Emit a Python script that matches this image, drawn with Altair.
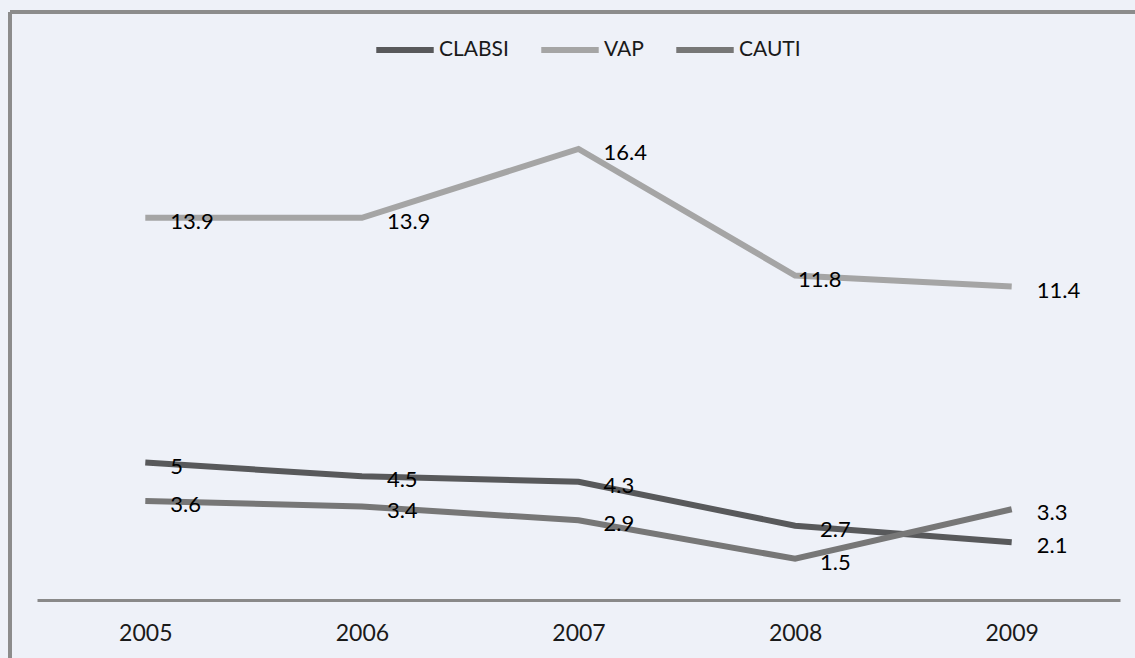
import altair as alt
import pandas as pd

years = ["2005", "2006", "2007", "2008", "2009"]
series_names = ["CLABSI", "VAP", "CAUTI"]
clabsi = [5, 4.5, 4.3, 2.7, 2.1]
vap = [13.9, 13.9, 16.4, 11.8, 11.4]
cauti = [3.6, 3.4, 2.9, 1.5, 3.3]
colors = ["#58595b", "#a5a5a5", "#777777"]

rows = []
for name, vals in zip(series_names, [clabsi, vap, cauti]):
    for y, v in zip(years, vals):
        rows.append({"year": y, "series": name, "value": v})
df = pd.DataFrame(rows)

FONT = "Lato"
W, H = 1083, 550

base = alt.Chart(df)

x = alt.X("year:N", sort=years, title=None,
          scale=alt.Scale(paddingInner=0, paddingOuter=0),
          axis=alt.Axis(labelAngle=0, ticks=False, domainColor="#898989", domainWidth=3,
                        labelFont=FONT, labelFontSize=23, labelColor="#1a1a1a",
                        labelPadding=22, grid=False))
y = alt.Y("value:Q", scale=alt.Scale(domain=[0, 20], nice=False), axis=None)
color = alt.Color("series:N", sort=series_names,
                  scale=alt.Scale(domain=series_names, range=colors),
                  legend=alt.Legend(title=None, orient="none", direction="horizontal",
                                    legendX=336, legendY=-32,
                                    symbolType="stroke", symbolSize=3300, symbolStrokeWidth=6,
                                    labelFont=FONT, labelFontSize=21, labelColor="#1a1a1a",
                                    columnPadding=20, labelOffset=2))

lines = base.mark_line(strokeWidth=6, strokeCap="butt").encode(
    x=x, y=y, color=color, order=alt.Order("year:N"))

labels_main = base.transform_filter(
    "!(datum.series == 'VAP' && datum.year == '2008')"
).mark_text(align="left", baseline="middle", dx=25, dy=4, font=FONT, fontSize=22,
            color="#000000").encode(x=alt.X("year:N", sort=years), y="value:Q",
                                    text=alt.Text("value:Q"))
labels_exc = base.transform_filter(
    "datum.series == 'VAP' && datum.year == '2008'"
).mark_text(align="left", baseline="middle", dx=3, dy=4, font=FONT, fontSize=22,
            color="#000000").encode(x=alt.X("year:N", sort=years), y="value:Q",
                                    text=alt.Text("value:Q"))

frame_left = alt.Chart(df).mark_rule(color="#8c8c8c", strokeWidth=3).encode(
    x=alt.value(-27), y=alt.value(-38), y2=alt.value(H + 80))
frame_top = alt.Chart(df).mark_rule(color="#8c8c8c", strokeWidth=3).encode(
    x=alt.value(-27), x2=alt.value(W + 40), y=alt.value(-38))

chart = alt.layer(frame_left, frame_top, lines, labels_main, labels_exc).properties(
    width=W, height=H,
    padding={"left": 37, "top": 50, "right": 15, "bottom": 58},
    autosize=alt.AutoSizeParams(type="none"),
    background="#eef1f8",
).configure_view(stroke=None)

chart.save("out.html", embed_options={"renderer": "svg", "actions": False})
